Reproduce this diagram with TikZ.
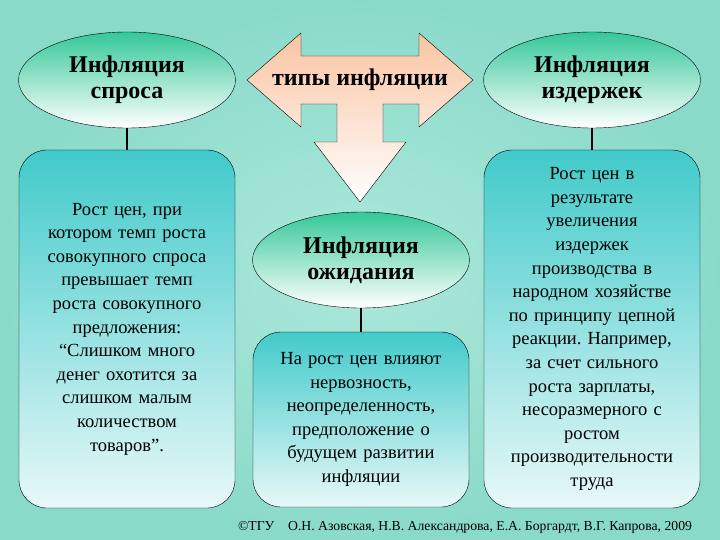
\documentclass[tikz,border=0pt]{standalone}
\usepackage{fontspec}
\setmainfont{Liberation Serif}
\usepackage{tikz}
\usepackage{tkz-euclide}
\usetikzlibrary{shapes.geometric}
\pgfdeclarelayer{bg}
\pgfsetlayers{bg,main}

\definecolor{bgLight}{RGB}{172,232,218}
\definecolor{bgDark}{RGB}{138,218,202}
\definecolor{ovalTop}{RGB}{52,200,152}
\definecolor{cardTop}{RGB}{66,202,202}
\definecolor{cardBot}{RGB}{232,248,248}
\definecolor{arrowTop}{RGB}{250,196,162}

\tikzset{
    oval/.style={ellipse, draw, minimum width=217pt, minimum height=96pt, inner sep=0pt,
        top color=ovalTop, bottom color=white, align=center,
        font=\bfseries\fontsize{24}{26}\selectfont},
    card/.style={rectangle, draw, rounded corners=28pt, minimum width=216pt,
        top color=cardTop, bottom color=cardBot, align=center, text width=205pt,
        font=\fontsize{18.5}{23.6}\selectfont},
    link/.style={line width=1.6pt}
}

\begin{document}
\frenchspacing
\begin{tikzpicture}[x=1pt,y=-1pt]
                        \useasboundingbox (0,0) rectangle (720,540);
                        \begin{pgfonlayer}{bg}
                            \shade[inner color=bgLight, outer color=bgDark] (0,0) rectangle (720,540);
                        \end{pgfonlayer}

                        % arrow with three heads
                        \tkzDefPoints{247/80/L, 301/33/A, 301/56/B, 419/56/C, 419/33/D, 473/80/R,
                            419/127/E, 419/104/F, 383/104/G, 383/142/H, 406/142/I, 360/202/T,
                            314/142/J, 337/142/K, 337/104/M, 301/104/N, 301/127/P}
                        \tkzDrawPolygon[draw=black, thin, top color=arrowTop, middle color=arrowTop!70, bottom color=white](L,A,B,C,D,R,E,F,G,H,I,T,J,K,M,N,P)
                        \node[font=\bfseries\fontsize{24}{26}\selectfont] (types) at (360,80) {типы инфляции};

                        \node[oval] (demand) at (127,80) {Инфляция\\спроса};
                        \node[oval] (cost) at (592,80) {Инфляция\\издержек};
                        \node[oval] (expect) at (361,260) {Инфляция\\ожидания};

                        \node[card, minimum height=358pt] (demandText) at (127,329) {Рост цен, при\\котором темп роста\\совокупного спроса\\превышает темп\\роста совокупного\\предложения:\\“Слишком много\\денег охотится за\\слишком малым\\количеством\\товаров”.};
                        \node[card, minimum height=358pt] (costText) at (592,329) {Рост цен в\\результате\\увеличения\\издержек\\производства в\\народном хозяйстве\\по принципу цепной\\реакции. Например,\\за счет сильного\\роста зарплаты,\\несоразмерного с\\ростом\\производительности\\труда};
                        \node[card, minimum height=175pt] (expectText) at (361,419.5) {На рост цен влияют\\нервозность,\\неопределенность,\\предположение о\\будущем развитии\\инфляции};

                        \foreach \a/\b in {demand/demandText, cost/costText, expect/expectText} {
                            \draw[link] (\a) -- (\b);
                        }

                        \node[font=\fontsize{13.7}{16}\selectfont] (credits) at (465,527) {©ТГУ\quad О.Н. Азовская, Н.В. Александрова, Е.А. Боргардт, В.Г. Капрова, 2009};
                    \end{tikzpicture}
\end{document}
